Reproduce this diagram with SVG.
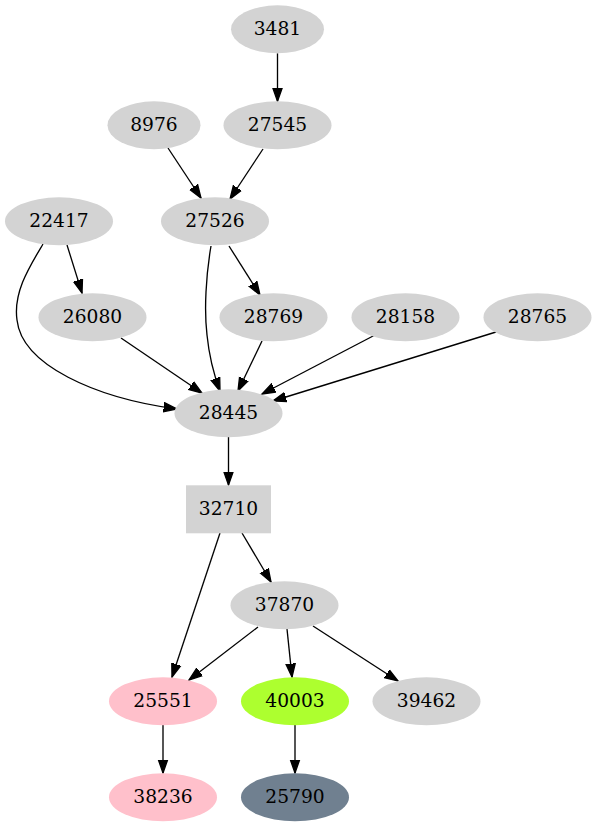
<svg xmlns="http://www.w3.org/2000/svg" width="597" height="827" viewBox="0 0 597 827">
<style>
.n ellipse, .n rect { fill: #d3d3d3; stroke: none; }
.n text { font-family: "DejaVu Serif", serif; font-size: 18.67px; text-anchor: middle; fill: #000; }
#edges path { fill: none; stroke: #000; stroke-width: 1.33; marker-end: url(#arr); }
.pink ellipse { fill: #ffc0cb; }
.green ellipse { fill: #adff2f; }
.slate ellipse { fill: #708090; }
</style>
<defs>
<marker id="arr" markerUnits="userSpaceOnUse" markerWidth="16" markerHeight="12" viewBox="0 -6 16 12" refX="13.33" refY="0" orient="auto">
<path d="M0,-4.67 L13.33,0 L0,4.67 Z" fill="#000" stroke="#000" stroke-width="1.33"/>
</marker>
</defs>
<rect width="597" height="827" fill="#fff"/>
<g id="edges">
<path d="M277.5,53.3 L277.5,101.3"/>
<path d="M168,148 L201,198"/>
<path d="M263,149 L230,199"/>
<path d="M67,245 L82,293"/>
<path d="M43,244 C30,266 13,292 17,320 C22,365 95,398 177,409"/>
<path d="M211,246 C206,275 204,310 207,335 C209,355 214,375 220,391"/>
<path d="M229,246 L260,295"/>
<path d="M121,338 L202,393"/>
<path d="M262,341 L238,391"/>
<path d="M375,335 L262,394"/>
<path d="M496,332 L273,401"/>
<path d="M228.5,437 L228.5,485"/>
<path d="M220,533 L172,677"/>
<path d="M242,533 L271,582"/>
<path d="M258,627 L189,680"/>
<path d="M287,629 L292,677"/>
<path d="M313,626 L398,681"/>
<path d="M163,725 L163,773"/>
<path d="M295,725 L295,773"/>
</g>
<g id="n3481" class="n"><ellipse cx="277.5" cy="29.3" rx="46.5" ry="24"/><text x="277.5" y="35.3">3481</text></g>
<g id="n8976" class="n"><ellipse cx="154" cy="125.3" rx="46.5" ry="24"/><text x="154" y="131.3">8976</text></g>
<g id="n27545" class="n"><ellipse cx="277.5" cy="125.3" rx="54" ry="24"/><text x="277.5" y="131.3">27545</text></g>
<g id="n22417" class="n"><ellipse cx="59" cy="221.3" rx="54" ry="24"/><text x="59" y="227.3">22417</text></g>
<g id="n27526" class="n"><ellipse cx="215" cy="221.3" rx="54" ry="24"/><text x="215" y="227.3">27526</text></g>
<g id="n26080" class="n"><ellipse cx="92.5" cy="317.3" rx="54" ry="24"/><text x="92.5" y="323.3">26080</text></g>
<g id="n28769" class="n"><ellipse cx="273.5" cy="317.3" rx="54" ry="24"/><text x="273.5" y="323.3">28769</text></g>
<g id="n28158" class="n"><ellipse cx="405.5" cy="317.3" rx="54" ry="24"/><text x="405.5" y="323.3">28158</text></g>
<g id="n28765" class="n"><ellipse cx="537.5" cy="317.3" rx="54" ry="24"/><text x="537.5" y="323.3">28765</text></g>
<g id="n28445" class="n"><ellipse cx="228.5" cy="413.3" rx="54" ry="24"/><text x="228.5" y="419.3">28445</text></g>
<g id="n32710" class="n"><rect x="186" y="485.3" width="85" height="48"/><text x="228.5" y="515.3">32710</text></g>
<g id="n37870" class="n"><ellipse cx="284.5" cy="605.3" rx="54" ry="24"/><text x="284.5" y="611.3">37870</text></g>
<g id="n25551" class="n pink"><ellipse cx="163" cy="701.3" rx="54" ry="24"/><text x="163" y="707.3">25551</text></g>
<g id="n40003" class="n green"><ellipse cx="295" cy="701.3" rx="54" ry="24"/><text x="295" y="707.3">40003</text></g>
<g id="n39462" class="n"><ellipse cx="426.5" cy="701.3" rx="54" ry="24"/><text x="426.5" y="707.3">39462</text></g>
<g id="n38236" class="n pink"><ellipse cx="163" cy="797.3" rx="54" ry="24"/><text x="163" y="803.3">38236</text></g>
<g id="n25790" class="n slate"><ellipse cx="295" cy="797.3" rx="54" ry="24"/><text x="295" y="803.3">25790</text></g>
</svg>
